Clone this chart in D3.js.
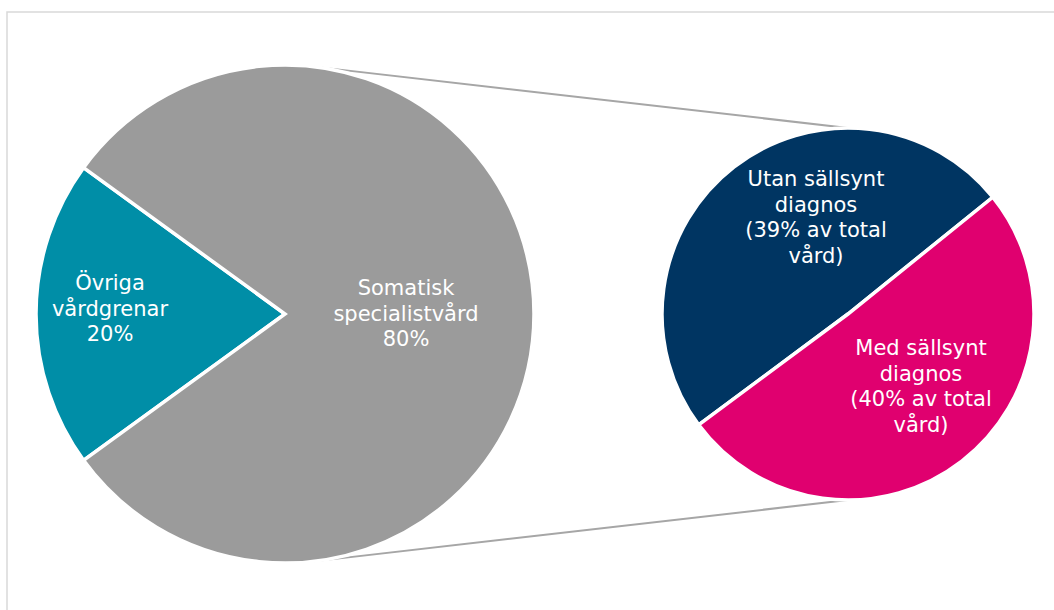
<!DOCTYPE html>
<html><head><meta charset="utf-8">
<script src="https://cdn.jsdelivr.net/npm/d3@7"></script>
<style>html,body{margin:0;padding:0;background:#fff;}svg{display:block;}</style>
</head><body>
<svg id="chart" width="1054" height="610"></svg>
<script>
// Data
const mainCategories = ["Övriga vårdgrenar", "Somatisk specialistvård"];
const mainValues = [20, 80];
const mainLabels = [["Övriga", "vårdgrenar", "20%"], ["Somatisk", "specialistvård", "80%"]];
const subCategories = ["Utan sällsynt diagnos", "Med sällsynt diagnos"];
const subValues = [39, 40];
const subLabels = [["Utan sällsynt", "diagnos", "(39% av total", "vård)"], ["Med sällsynt", "diagnos", "(40% av total", "vård)"]];

// Layout / style
const mainColors = ["#008ea7", "#9b9b9b"];
const subColors = ["#003562", "#e0006f"];
const L = {cx: 285, cy: 314, r: 249};
const R = {cx: 848, cy: 314, r: 186};
const mainLabelPos = [[110, 308], [406, 313]];
const subLabelPos = [[816, 217], [921, 386]];
const fontSize = 21, lineH = 25.5;

const svg = d3.select("#chart");
svg.append("rect").attr("x", 7).attr("y", 12).attr("width", 1200).attr("height", 800)
  .attr("fill", "none").attr("stroke", "#d9d9d9").attr("stroke-width", 1.5);

const deg = Math.PI / 180;
// Left pie: small slice centred on 9 o'clock
const mainTotal = d3.sum(mainValues);
const tealSpan = mainValues[0] / mainTotal * 360;
const pieMain = d3.pie().sort(null).value(d => d)
  .startAngle((270 - tealSpan / 2) * deg).endAngle((270 - tealSpan / 2 + 360) * deg);
const arcMain = d3.arc().innerRadius(0).outerRadius(L.r);

// Right pie: split line angled
const pieSub = d3.pie().sort(null).value(d => d)
  .startAngle(233.4 * deg).endAngle((233.4 + 360) * deg);
const arcSub = d3.arc().innerRadius(0).outerRadius(R.r);

// connectors (tangent from second pie top/bottom to main pie)
function tangent(P, C, r, up) {
  const dx = P[0] - C.cx, dy = P[1] - C.cy, d = Math.hypot(dx, dy);
  const base = Math.atan2(dy, dx), a = Math.acos(r / d);
  const t = up ? base - a : base + a;
  return [C.cx + r * Math.cos(t), C.cy + r * Math.sin(t)];
}
const pTop = [R.cx, R.cy - R.r], pBot = [R.cx, R.cy + R.r];
[[pTop, true], [pBot, false]].forEach(([p, up]) => {
  const t = tangent(p, L, L.r, up);
  svg.append("line").attr("x1", t[0]).attr("y1", t[1]).attr("x2", p[0]).attr("y2", p[1])
    .attr("stroke", "#a6a6a6").attr("stroke-width", 2);
});

const gL = svg.append("g").attr("transform", `translate(${L.cx},${L.cy})`);
gL.selectAll("path").data(pieMain(mainValues)).join("path")
  .attr("d", arcMain).attr("fill", (d, i) => mainColors[i])
  .attr("stroke", "#fff").attr("stroke-width", 3.5).attr("stroke-linejoin", "miter");

const gR = svg.append("g").attr("transform", `translate(${R.cx},${R.cy})`);
gR.selectAll("path").data(pieSub(subValues)).join("path")
  .attr("d", arcSub).attr("fill", (d, i) => subColors[i])
  .attr("stroke", "#fff").attr("stroke-width", 3.5).attr("stroke-linejoin", "miter");

function label(lines, pos) {
  const n = lines.length;
  const t = svg.append("text").attr("text-anchor", "middle")
    .attr("font-family", "DejaVu Sans, Verdana, sans-serif").attr("font-size", fontSize)
    .attr("fill", "#fff");
  lines.forEach((s, i) => {
    t.append("tspan").attr("x", pos[0])
      .attr("y", pos[1] + (i - (n - 1) / 2) * lineH + fontSize * 0.36).text(s);
  });
}
mainLabels.forEach((l, i) => label(l, mainLabelPos[i]));
subLabels.forEach((l, i) => label(l, subLabelPos[i]));
</script>
</body></html>
